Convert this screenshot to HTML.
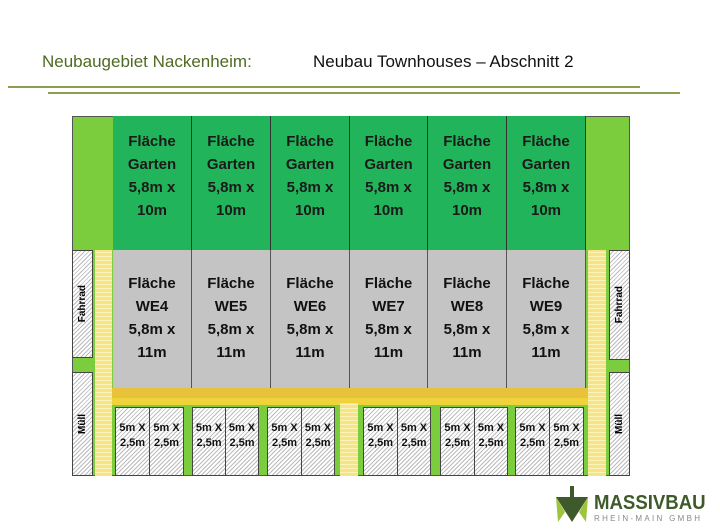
<html><head><style>
body{margin:0;width:720px;height:530px;background:#fff;position:relative;overflow:hidden;font-family:"Liberation Sans",sans-serif}
div{position:absolute;box-sizing:border-box}
.g{background:#22b45a;border-right:1px solid #333;color:#1a1a1a;font-weight:bold;font-size:15px;line-height:23px;text-align:center;padding-top:14px}
.w{background:#c4c4c4;border-right:1px solid #555;color:#111;font-weight:bold;font-size:15px;line-height:23px;text-align:center;padding-top:22px}
.h{background:repeating-linear-gradient(135deg,#fff 0 2px,#bbb 2px 3px);border:1px solid #444}
.y{background:repeating-linear-gradient(0deg,#f6e588 0 3px,#fbf3b8 3px 4px)}
.p{font-weight:bold;font-size:11px;line-height:15px;text-align:center;padding-top:13px;color:#111}
.f{display:flex;align-items:center;justify-content:center}
.f span{writing-mode:vertical-rl;transform:rotate(180deg);font-size:10px;font-weight:bold;white-space:nowrap}
</style></head><body>
<div style="left:42px;top:52px;font-size:17px;color:#4f6a22">Neubaugebiet Nackenheim:</div>
<div style="left:313px;top:52px;font-size:17px;color:#111">Neubau Townhouses – Abschnitt 2</div>
<div style="left:8px;top:86px;width:632px;height:2px;background:#8aa050"></div>
<div style="left:48px;top:92px;width:632px;height:2px;background:#8aa050"></div>

<div style="left:72px;top:116px;width:558px;height:360px;background:#7ccd3e;border:1px solid #555"></div>
<div class="g" style="left:113px;top:116px;width:79px;height:134px">Fläche<br>Garten<br>5,8m x<br>10m</div>
<div class="g" style="left:192px;top:116px;width:79px;height:134px">Fläche<br>Garten<br>5,8m x<br>10m</div>
<div class="g" style="left:271px;top:116px;width:79px;height:134px">Fläche<br>Garten<br>5,8m x<br>10m</div>
<div class="g" style="left:350px;top:116px;width:78px;height:134px">Fläche<br>Garten<br>5,8m x<br>10m</div>
<div class="g" style="left:428px;top:116px;width:79px;height:134px">Fläche<br>Garten<br>5,8m x<br>10m</div>
<div class="g" style="left:507px;top:116px;width:79px;height:134px">Fläche<br>Garten<br>5,8m x<br>10m</div>

<div class="w" style="left:113px;top:250px;width:79px;height:138px">Fläche<br>WE4<br>5,8m x<br>11m</div>
<div class="w" style="left:192px;top:250px;width:79px;height:138px">Fläche<br>WE5<br>5,8m x<br>11m</div>
<div class="w" style="left:271px;top:250px;width:79px;height:138px">Fläche<br>WE6<br>5,8m x<br>11m</div>
<div class="w" style="left:350px;top:250px;width:78px;height:138px">Fläche<br>WE7<br>5,8m x<br>11m</div>
<div class="w" style="left:428px;top:250px;width:79px;height:138px">Fläche<br>WE8<br>5,8m x<br>11m</div>
<div class="w" style="left:507px;top:250px;width:79px;height:138px">Fläche<br>WE9<br>5,8m x<br>11m</div>

<div style="left:95px;top:388px;width:493px;height:10px;background:#e8c23a"></div>
<div style="left:95px;top:398px;width:493px;height:7px;background:#f0d23a"></div>
<div class="y" style="left:95px;top:250px;width:17px;height:226px"></div>
<div class="y" style="left:588px;top:250px;width:18px;height:226px"></div>
<div class="y" style="left:340px;top:403px;width:18px;height:73px"></div>

<div class="h f" style="left:72px;top:250px;width:21px;height:108px"><span>Fahrrad</span></div>
<div class="h f" style="left:72px;top:372px;width:21px;height:104px"><span>Müll</span></div>
<div class="h f" style="left:609px;top:250px;width:21px;height:110px"><span>Fahrrad</span></div>
<div class="h f" style="left:609px;top:372px;width:21px;height:104px"><span>Müll</span></div>

<div class="h p" style="left:115px;top:407px;width:35px;height:69px">5m X<br>2,5m</div>
<div class="h p" style="left:149px;top:407px;width:35px;height:69px">5m X<br>2,5m</div>
<div class="h p" style="left:192px;top:407px;width:34px;height:69px">5m X<br>2,5m</div>
<div class="h p" style="left:225px;top:407px;width:34px;height:69px">5m X<br>2,5m</div>
<div class="h p" style="left:267px;top:407px;width:35px;height:69px">5m X<br>2,5m</div>
<div class="h p" style="left:301px;top:407px;width:34px;height:69px">5m X<br>2,5m</div>
<div class="h p" style="left:363px;top:407px;width:35px;height:69px">5m X<br>2,5m</div>
<div class="h p" style="left:397px;top:407px;width:34px;height:69px">5m X<br>2,5m</div>
<div class="h p" style="left:440px;top:407px;width:35px;height:69px">5m X<br>2,5m</div>
<div class="h p" style="left:474px;top:407px;width:34px;height:69px">5m X<br>2,5m</div>
<div class="h p" style="left:515px;top:407px;width:35px;height:69px">5m X<br>2,5m</div>
<div class="h p" style="left:549px;top:407px;width:35px;height:69px">5m X<br>2,5m</div>

<svg style="position:absolute;left:554px;top:486px" width="36" height="38"><rect x="16" y="0" width="4" height="13" fill="#3e5a2a"/><polygon points="2,11 34,11 18,36" fill="#3e5a2a"/><polygon points="2,11 11,26 4,36" fill="#9cc43c"/><polygon points="34,11 25,26 32,36" fill="#9cc43c"/></svg>
<div style="left:594px;top:492px;font-size:20px;font-weight:bold;color:#3e5a2a;transform:scaleX(0.93);transform-origin:0 0">MASSIVBAU</div>
<div style="left:594px;top:514px;font-size:8px;color:#888;letter-spacing:2.3px">RHEIN-MAIN GMBH</div>
</body></html>
